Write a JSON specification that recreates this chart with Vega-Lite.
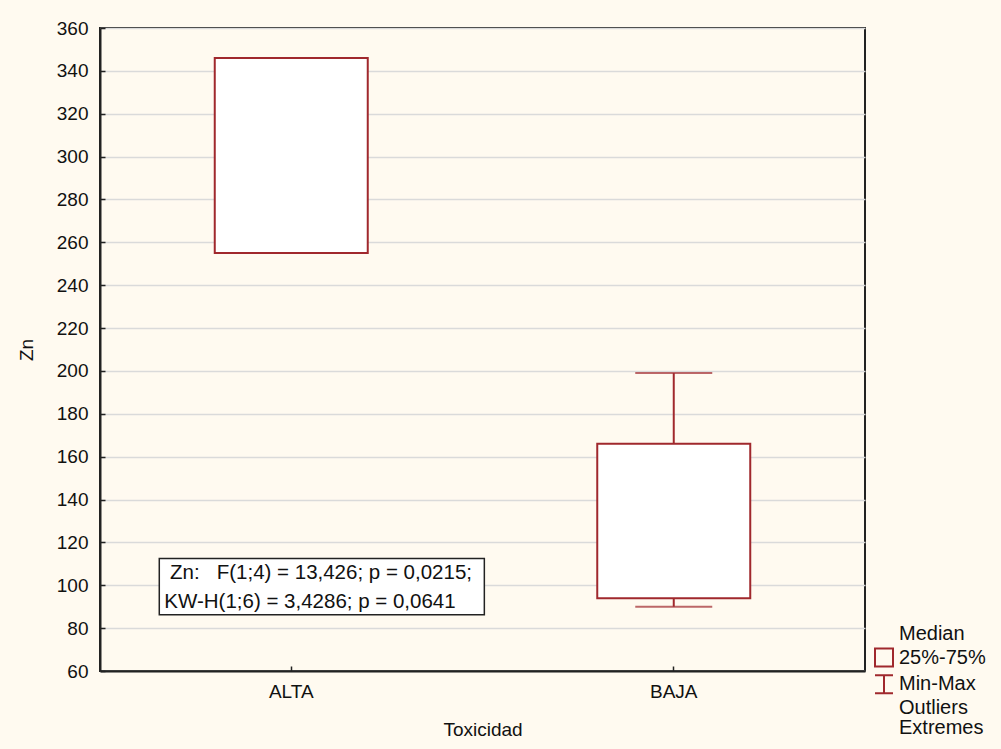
{
  "$schema": "https://vega.github.io/schema/vega-lite/v6.json",
  "width": 765,
  "height": 643,
  "autosize": {"type": "none"},
  "padding": {"left": 100, "top": 28, "right": 136, "bottom": 78},
  "background": "#fffaf0",
  "config": {
    "font": "Liberation Sans",
    "view": {"fill": "#ffffff", "stroke": "#222222", "strokeWidth": 2},
    "axis": {
      "labelFont": "Liberation Sans",
      "labelFontSize": 19,
      "labelColor": "#111111",
      "titleFont": "Liberation Sans",
      "titleFontSize": 19,
      "titleFontWeight": "normal",
      "titleColor": "#111111",
      "domainColor": "#222222",
      "domainWidth": 2,
      "tickColor": "#222222",
      "tickWidth": 1.5,
      "tickSize": -5,
      "gridColor": "#dadada",
      "gridWidth": 1.5
    },
    "legend": {
      "labelFont": "Liberation Sans",
      "labelFontSize": 20,
      "labelColor": "#111111",
      "padding": 0
    }
  },
  "datasets": {
    "boxes": [
      {"grupo": "ALTA", "min": 255, "q1": 255, "q3": 346, "max": 346},
      {"grupo": "BAJA", "min": 90, "q1": 94, "q3": 166, "max": 199}
    ],
    "nota": [
      {"x1": 0.0775, "x2": 0.5024, "y1": 86.3, "y2": 112.5,
       "texto": "\u200b\u00a0Zn:\u00a0\u00a0\u00a0F(1;4) = 13,426; p = 0,0215;\nKW-H(1;6) = 3,4286; p = 0,0641"}
    ],
    "leyenda": [
      {"item": "Median"},
      {"item": "25%-75%"},
      {"item": "Min-Max"},
      {"item": "Outliers"},
      {"item": "Extremes"}
    ]
  },
  "layer": [
    {
      "data": {"name": "boxes"},
      "layer": [
        {
          "mark": {"type": "rule", "color": "#a0282d", "strokeWidth": 2},
          "encoding": {
            "y": {"field": "min", "type": "quantitative"},
            "y2": {"field": "max"}
          }
        },
        {
          "mark": {"type": "bar", "fill": "#ffffff", "stroke": "#a0282d", "strokeWidth": 2, "width": {"band": 0.4}},
          "encoding": {
            "y": {"field": "q1", "type": "quantitative"},
            "y2": {"field": "q3"}
          }
        },
        {
          "mark": {"type": "tick", "color": "#a0282d", "size": 77, "thickness": 2},
          "encoding": {
            "y": {"field": "min", "type": "quantitative"}
          }
        },
        {
          "mark": {"type": "tick", "color": "#a0282d", "size": 77, "thickness": 2},
          "encoding": {
            "y": {"field": "max", "type": "quantitative"}
          }
        }
      ],
      "encoding": {
        "x": {
          "field": "grupo",
          "type": "nominal",
          "sort": null,
          "scale": {"type": "band", "paddingInner": 0, "paddingOuter": 0},
          "axis": {"title": "Toxicidad", "labelAngle": 0, "grid": false, "labelPadding": 16, "titlePadding": 19}
        },
        "y": {
          "type": "quantitative",
          "title": "Zn",
          "scale": {"domain": [60, 360], "nice": false, "zero": false},
          "axis": {
            "values": [60, 80, 100, 120, 140, 160, 180, 200, 220, 240, 260, 280, 300, 320, 340, 360],
            "grid": true,
            "labelPadding": 17,
            "titlePadding": 20
          }
        }
      }
    },
    {
      "data": {"name": "nota"},
      "layer": [
        {
          "mark": {"type": "rect", "fill": "#ffffff", "stroke": "#222222", "strokeWidth": 1.5},
          "encoding": {
            "x": {"field": "x1", "type": "quantitative", "scale": {"domain": [0, 1], "nice": false, "zero": false}, "axis": null},
            "x2": {"field": "x2"},
            "y": {"field": "y1", "type": "quantitative", "title": "Zn", "scale": {"domain": [60, 360], "nice": false, "zero": false}},
            "y2": {"field": "y2"}
          }
        },
        {
          "mark": {"type": "text", "align": "left", "baseline": "top", "dx": 5, "dy": 5, "fontSize": 20.5, "lineHeight": 29, "lineBreak": "\n", "color": "#111111", "font": "Liberation Sans"},
          "encoding": {
            "x": {"field": "x1", "type": "quantitative", "scale": {"domain": [0, 1], "nice": false, "zero": false}, "axis": null},
            "y": {"field": "y2", "type": "quantitative", "title": "Zn", "scale": {"domain": [60, 360], "nice": false, "zero": false}},
            "text": {"field": "texto"}
          }
        }
      ]
    },
    {
      "data": {"name": "leyenda"},
      "mark": {"type": "point", "opacity": 0, "filled": false},
      "encoding": {
        "shape": {
          "field": "item",
          "type": "nominal",
          "scale": {
            "domain": ["Median", "25%-75%", "Min-Max", "Outliers", "Extremes"],
            "range": ["M0,0", "square", "M-1,-1H1M0,-1V1M-1,1H1", "M0,0", "M0,0"]
          },
          "legend": {
            "title": null,
            "orient": "none",
            "legendX": 774,
            "legendY": 596,
            "symbolSize": 324,
            "symbolOpacity": 1,
            "symbolFillColor": "#ffffff",
            "symbolStrokeColor": "#a0282d",
            "symbolStrokeWidth": 2,
            "labelOffset": 5,
            "rowPadding": 0.6
          }
        }
      }
    }
  ],
  "resolve": {"scale": {"x": "independent"}}
}
